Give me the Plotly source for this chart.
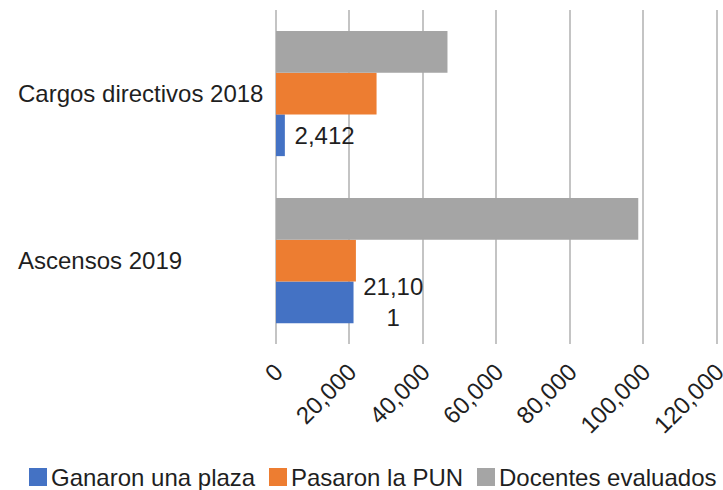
import plotly.graph_objects as go

categories = ["Ascensos 2019", "Cargos directivos 2018"]
ganaron = [21101, 2412]
pasaron = [21750, 27370]
evaluados = [98600, 46670]
ganaron_labels = ["\u00a021,10<br>\u00a01", "\u00a02,412"]
series_names = ["Ganaron una plaza", "Pasaron la PUN", "Docentes evaluados"]
series_colors = ["#4472C4", "#ED7D31", "#A5A5A5"]
x_ticks = [0, 20000, 40000, 60000, 80000, 100000, 120000]
x_tick_labels = ["0", "20,000", "40,000", "60,000", "80,000", "100,000", "120,000"]

FONT = "Liberation Sans, Arial, sans-serif"
TXT = "#1f1f1f"
FS = 24

W, H = 723, 490
ML, MR, MT, MB = 276, 5, 10, 146
PW, PH = W - ML - MR, H - MT - MB


def px_x(px):
    return (px - ML) / PW


def px_y(py):
    return (H - MB - py) / PH


fig = go.Figure()
values = [ganaron, pasaron, evaluados]
for i, (name, color, vals) in enumerate(zip(series_names, series_colors, values)):
    kw = {}
    if i == 0:
        kw = dict(text=ganaron_labels, textposition="outside", cliponaxis=False,
                  constraintext="none",
                  textfont=dict(size=FS, color=TXT, family=FONT))
    fig.add_trace(go.Bar(
        y=categories, x=vals, orientation="h", name=name,
        marker=dict(color=color, line=dict(width=0)),
        showlegend=False, **kw,
    ))

annotations = []
# left-aligned category labels
for cat in categories:
    annotations.append(dict(
        xref="paper", yref="y", x=px_x(16), y=cat, text=cat,
        showarrow=False, xanchor="left", yanchor="middle",
        font=dict(size=FS, color=TXT, family=FONT),
    ))

# custom legend (swatch left edge px)
legend_swatch_x = [29, 269, 477]
shapes = []
leg_y = 477
for sx, name, color in zip(legend_swatch_x, series_names, series_colors):
    shapes.append(dict(
        type="rect", xref="paper", yref="paper",
        x0=px_x(sx), x1=px_x(sx + 18), y0=px_y(leg_y + 9), y1=px_y(leg_y - 9),
        fillcolor=color, line=dict(width=0), layer="above",
    ))
    annotations.append(dict(
        xref="paper", yref="paper", x=px_x(sx + 21), y=px_y(leg_y),
        text=name, showarrow=False, xanchor="left", yanchor="middle",
        font=dict(size=FS, color=TXT, family=FONT), borderpad=0,
    ))

fig.update_layout(
    width=W, height=H,
    margin=dict(l=ML, r=MR, t=MT, b=MB, autoexpand=False),
    barmode="group", bargap=0.25, bargroupgap=0,
    paper_bgcolor="white", plot_bgcolor="white",
    font=dict(family=FONT, size=FS, color=TXT),
    showlegend=False,
    annotations=annotations, shapes=shapes,
    xaxis=dict(
        range=[0, 120300], tickvals=x_ticks, ticktext=x_tick_labels,
        tickangle=-45, showgrid=True, gridcolor="#c4c4c4", gridwidth=1.5,
        zeroline=True, zerolinecolor="#c4c4c4", zerolinewidth=1.5,
        showline=False, ticks="", tickfont=dict(size=FS, color=TXT),
        ticklabelstandoff=8, automargin=False, ticklabeloverflow="allow",
    ),
    yaxis=dict(
        showgrid=False, zeroline=False, showline=False, ticks="",
        showticklabels=False, automargin=False,
    ),
)

fig.write_html(
    "out.html",
    config={"displayModeBar": False},
    post_script="document.body.style.margin='0';document.body.style.padding='0';",
)
